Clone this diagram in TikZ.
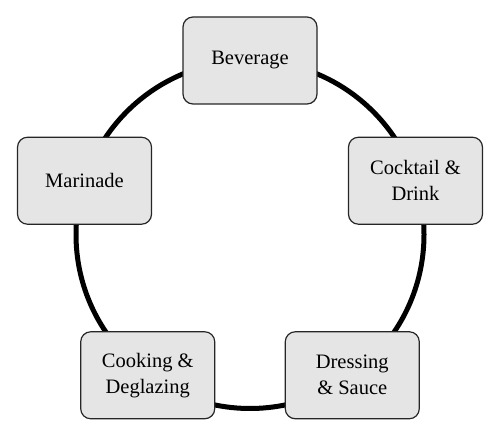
\documentclass[tikz,border=0pt]{standalone}
\usepackage{fontspec}
\setmainfont{Liberation Serif}

\begin{document}
\begin{tikzpicture}[x=1pt,y=1pt,
	stage/.style={draw=black!85,line width=1.2pt,fill=black!10,
		rounded corners=10pt,minimum width=134pt,minimum height=87pt,
		align=center,font=\fontsize{20.5}{26}\selectfont}]
	\useasboundingbox (0,0) rectangle (500,438);
	\coordinate (c) at (250,203.5);
	\draw[line width=5pt] (c) circle (174);
	
	\foreach \ang/\nm/\txt in {90/bev/Beverage,18/cock/{Cocktail \&\\Drink},
			306/dress/{Dressing\\\& Sauce},234/cook/{Cooking \&\\Deglazing},
			162/mari/Marinade}
		\node[stage] (\nm) at ([shift={(\ang:174)}]c) {\txt};
\end{tikzpicture}
\end{document}
